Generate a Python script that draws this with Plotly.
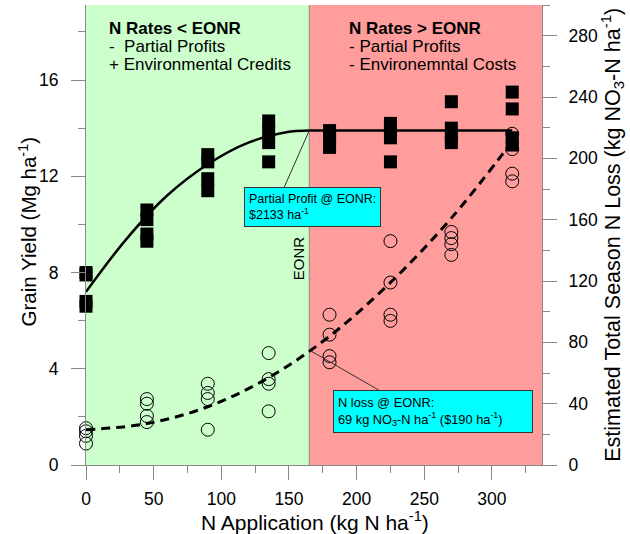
import plotly.graph_objects as go

# ---------------- data ----------------
n_rates = [0, 45, 90, 135, 180, 225, 270, 315]

# grain yield replicates (Mg/ha), 4 reps per N rate
yield_reps = [
    [8.0, 7.9, 6.8, 6.6],
    [10.6, 10.2, 9.6, 9.3],
    [12.9, 12.6, 11.9, 11.4],
    [14.3, 13.9, 13.4, 12.6],
    [13.9, 13.7, 13.4, 13.2],
    [14.2, 13.9, 13.6, 12.6],
    [15.1, 14.0, 13.7, 13.4],
    [15.5, 14.8, 13.6, 13.3],
]

# estimated N loss replicates (kg NO3-N/ha)
nloss_reps = [
    [24, 22, 19, 14],
    [43, 40, 32, 28],
    [53, 47, 43, 23],
    [73, 56, 53, 35],
    [98, 85, 71, 67],
    [146, 119, 98, 94],
    [152, 148, 144, 137],
    [216, 206, 190, 185],
]

# fitted curves
yield_fit_x = [0, 30, 60, 90, 120, 150, 165, 200, 250, 315]
yield_fit_y = [7.2, 9.4, 11.2, 12.5, 13.4, 13.85, 13.9, 13.9, 13.9, 13.9]
nloss_fit_x = [0, 45, 90, 135, 180, 225, 270, 315]
nloss_fit_y = [23, 27, 38, 57, 84, 119, 161, 211]

EONR = 165
X_MAX = 337
Y_MAX = 19.12
Y2_MAX = 300

left_lines = ["<b>N Rates &lt; EONR</b>", "-  Partial Profits", "+ Environmental Credits"]
right_lines = ["<b>N Rates &gt; EONR</b>", "- Partial Profits", "- Environemntal Costs"]

x_title = "N Application (kg N ha<sup>-1</sup>)"
y_title = "Grain Yield (Mg ha<sup>-1</sup>)"
y2_title = "Estimated Total Season N Loss (kg NO<sub>3</sub>-N ha<sup>-1</sup>)"

# ---------------- figure ----------------
FONT = "Arial, Liberation Sans, sans-serif"
fig = go.Figure()

yx, yy = [], []
for r, reps in zip(n_rates, yield_reps):
    yx += [r] * len(reps)
    yy += reps
lx, ly = [], []
for r, reps in zip(n_rates, nloss_reps):
    lx += [r] * len(reps)
    ly += reps

fig.add_trace(go.Scatter(x=yield_fit_x, y=yield_fit_y, mode="lines",
                         line=dict(color="black", width=2.5, shape="spline", smoothing=1.0),
                         hoverinfo="skip"))
fig.add_trace(go.Scatter(x=yx, y=yy, mode="markers", cliponaxis=False,
                         marker=dict(symbol="square", size=13, color="black")))
fig.add_trace(go.Scatter(x=nloss_fit_x, y=nloss_fit_y, mode="lines", yaxis="y2",
                         line=dict(color="black", width=3, dash="9px,6px", shape="spline", smoothing=1.0),
                         hoverinfo="skip"))
fig.add_trace(go.Scatter(x=lx, y=ly, mode="markers", yaxis="y2", cliponaxis=False,
                         marker=dict(symbol="circle-open", size=13, color="black",
                                     line=dict(width=1, color="black"))))

# background regions
fig.add_shape(type="rect", xref="x", yref="paper", x0=0, x1=EONR, y0=0, y1=1,
              fillcolor="#ccffcc", line=dict(width=0), layer="below")
fig.add_shape(type="rect", xref="x", yref="paper", x0=EONR, x1=X_MAX, y0=0, y1=1,
              fillcolor="#ff9c9c", line=dict(width=0), layer="below")
fig.add_shape(type="line", xref="x", yref="paper", x0=EONR, x1=EONR, y0=0, y1=1,
              line=dict(color="#888888", width=1), layer="below")

# leader lines
fig.add_shape(type="line", xref="x", yref="y", x0=EONR, y0=13.9, x1=145.6, y1=11.43,
              line=dict(color="#333333", width=1))
fig.add_shape(type="line", xref="x", yref="y2", x0=EONR, y0=75, x1=218.8, y1=47.6,
              line=dict(color="#333333", width=1))

# region text blocks (one annotation per line to control spacing)
for i, t in enumerate(left_lines):
    fig.add_annotation(xref="x", yref="paper", x=15.5, y=0.950 - i * 0.0402,
                       xanchor="left", yanchor="middle", showarrow=False, text=t,
                       font=dict(size=17, color="black", family=FONT))
for i, t in enumerate(right_lines):
    fig.add_annotation(xref="x", yref="paper", x=193, y=0.950 - i * 0.0402,
                       xanchor="left", yanchor="middle", showarrow=False, text=t,
                       font=dict(size=17, color="black", family=FONT))

fig.add_annotation(xref="x", yref="y", x=167.4, y=10.74, xanchor="center", yanchor="middle",
                   align="left", showarrow=False, borderpad=4,
                   bgcolor="#00ffff", bordercolor="#333333", borderwidth=1,
                   text="Partial Profit @ EONR:<br>$2133 ha<sup>-1</sup>",
                   font=dict(size=12.5, color="black", family=FONT))
fig.add_annotation(xref="x", yref="y", x=182.5, y=2.24, xanchor="left", yanchor="middle",
                   align="left", showarrow=False, borderpad=4,
                   bgcolor="#00ffff", bordercolor="#333333", borderwidth=1,
                   text="N loss @ EONR:<br>69 kg NO<sub>3</sub>-N ha<sup>-1</sup> ($190 ha<sup>-1</sup>)" + "&nbsp;" * 7,
                   font=dict(size=12.8, color="black", family=FONT))
fig.add_annotation(xref="x", yref="y", x=156.7, y=8.6, textangle=-90, showarrow=False,
                   text="EONR", font=dict(size=15, color="black", family=FONT))

# axis titles placed as annotations
fig.add_annotation(xref="paper", yref="paper", x=0.502, y=-0.122, xanchor="center", yanchor="middle",
                   showarrow=False, text=x_title, font=dict(size=21, color="black", family=FONT))
fig.add_annotation(xref="paper", yref="paper", x=-0.128, y=0.507, xanchor="center", yanchor="middle",
                   textangle=-90, showarrow=False, text=y_title,
                   font=dict(size=20.5, color="black", family=FONT))
fig.add_annotation(xref="paper", yref="paper", x=1.153, y=0.5, xanchor="center", yanchor="middle",
                   textangle=-90, showarrow=False, text=y2_title,
                   font=dict(size=21.5, color="black", family=FONT))

axis_common = dict(showgrid=False, zeroline=False, showline=True, linecolor="#888888",
                   linewidth=1, ticks="outside", ticklen=14, tickcolor="#888888",
                   tickfont=dict(size=17.5, color="black", family=FONT))

fig.update_layout(
    width=630, height=534,
    margin=dict(l=86, r=88, t=5, b=69),
    plot_bgcolor="white", paper_bgcolor="white",
    showlegend=False,
    font=dict(family=FONT, color="black"),
    xaxis=dict(range=[0, X_MAX], tick0=0, dtick=50,
               minor=dict(dtick=25, ticks="outside", ticklen=7, tickcolor="#888888"),
               ticklabelstandoff=4,
               **axis_common),
    yaxis=dict(range=[0, Y_MAX], tick0=0, dtick=4,
               minor=dict(dtick=2, ticks="outside", ticklen=7, tickcolor="#888888"),
               ticklabelstandoff=9,
               **axis_common),
    yaxis2=dict(range=[0, Y2_MAX], tick0=0, dtick=40, overlaying="y", side="right",
                minor=dict(dtick=20, ticks="outside", ticklen=7, tickcolor="#888888"),
                ticklabelstandoff=8,
                **axis_common),
)

fig.write_html("out.html")
